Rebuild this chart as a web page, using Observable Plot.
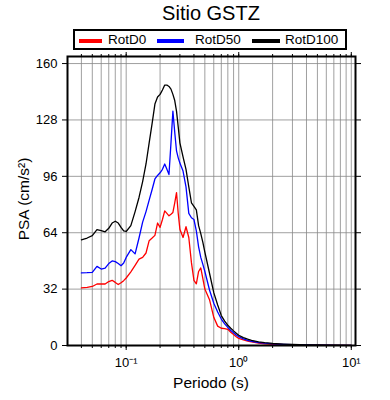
<!DOCTYPE html>
<html><head><meta charset="utf-8">
<script src="https://cdn.jsdelivr.net/npm/d3@7"></script>
<script src="https://cdn.jsdelivr.net/npm/@observablehq/plot@0.6"></script>
<style>
body{margin:0;background:#fff;}
#wrap{position:relative;width:390px;height:400px;font-family:"Liberation Sans",Arial,sans-serif;color:#000;}
#wrap svg{position:absolute;left:0;top:0;}
.ov{position:absolute;white-space:nowrap;}
#title{left:0;width:422px;top:3px;text-align:center;font-size:20px;line-height:20px;}
#legend{left:73px;top:29px;width:274px;height:21px;border:2px solid #000;box-sizing:border-box;}
.sw{position:absolute;height:4px;top:39px;}
.lt{position:absolute;top:33px;font-size:13.5px;line-height:13.5px;}
#xlab{left:0;width:422px;top:375px;text-align:center;font-size:15.5px;line-height:16px;}
#ylab{left:24px;top:199px;font-size:15.5px;line-height:16px;transform:translate(-50%,-50%) rotate(-90deg);}
</style></head>
<body><div id="wrap"></div>
<script>
const periods = [0.04,0.045,0.05,0.055,0.06,0.065,0.07,0.075,0.08,0.085,0.09,0.095,0.1,0.11,0.12,0.13,0.14,0.15,0.16,0.17,0.18,0.19,0.2,0.21,0.22,0.23,0.24,0.25,0.26,0.27,0.28,0.29,0.3,0.32,0.34,0.36,0.38,0.4,0.42,0.44,0.46,0.48,0.5,0.55,0.6,0.65,0.7,0.75,0.8,0.85,0.9,0.95,1.0,1.1,1.2,1.3,1.5,1.7,2.0,2.5,3.0,4.0,5.0,6.0,7.5,10];
const rotD0 = [32.7,33.0,33.5,34.9,34.9,34.9,36.3,37.0,35.8,34.6,35.6,36.8,38.3,41.8,45.5,49.0,50.0,52.5,59.5,61.0,62.5,69.5,67.0,71.5,76.4,75.0,73.6,74.5,75.5,81.0,86.8,75.0,66.0,61.3,67.4,61.3,47.0,37.0,35.0,42.0,44.0,38.0,32.0,26.0,16.0,11.0,9.8,9.6,9.2,7.5,6.2,5.0,4.0,3.2,2.5,2.0,1.4,1.0,0.7,0.5,0.35,0.25,0.18,0.14,0.1,0.07];
const rotD50 = [41.2,41.3,41.5,44.9,43.4,43.9,46.5,48.0,47.6,46.5,45.3,46.8,50.0,54.4,52.0,61.0,70.0,76.0,82.5,88.5,94.5,96.5,98.0,100.0,103.0,100.0,97.0,115.0,133.0,121.0,110.4,106.5,103.5,99.0,90.0,75.0,72.5,71.5,65.0,56.0,50.0,46.0,42.0,31.5,24.0,19.0,15.0,12.3,10.3,8.5,7.2,6.0,5.0,3.8,2.9,2.3,1.7,1.3,0.9,0.6,0.45,0.3,0.22,0.16,0.12,0.08];
const rotD100 = [60,61,62.3,65.7,65.2,64.5,66.5,69.5,70.5,69.5,67,65,64.7,68,76,84,93,103,115,126,137,141,142.5,145,147.8,147.8,147,145.5,142.5,139,133,124,115,107,100,90,81,79,77,68,63.5,58.5,53,41,30,23,17,13.8,11.5,9.8,8.3,7.0,5.8,4.5,3.6,2.9,2.1,1.6,1.15,0.8,0.6,0.4,0.3,0.22,0.16,0.11];
const seriesNames = ["RotD0","RotD50","RotD100"];
const seriesColors = ["#ff0000","#0000ff","#000000"];
const yTicks = [0,32,64,96,128,160];
const xMajor = [0.1,1,10];
const xMajorLabels = ["10\u207B\u00B9","10\u2070","10\u00B9"];
const titleText = "Sitio GSTZ";
const xLabel = "Periodo (s)";
const yLabel = "PSA (cm/s\u00B2)";

const xMinor = [];
for (const d of [0.01,0.1,1]) for (let k=1;k<=9;k++){const v=+(k*d).toPrecision(3); if(v>=0.04) xMinor.push(v);}
xMinor.push(10);

const table = [];
[rotD0,rotD50,rotD100].forEach((arr,si)=>arr.forEach((v,i)=>table.push({period:periods[i],value:v,series:seriesNames[si]})));

const blank = () => "";
const chart = Plot.plot({
  width:390, height:400,
  marginLeft:67, marginRight:35, marginTop:56, marginBottom:55,
  x:{type:"log", domain:[0.0301,10.9]},
  y:{domain:[0,164]},
  color:{domain:seriesNames, range:seriesColors},
  style:{fontFamily:"Liberation Sans, Arial, sans-serif", fontSize:"13px", color:"#000", background:"#fff"},
  marks:[
    Plot.gridX(xMinor,{stroke:"#888", strokeOpacity:1, strokeWidth:0.8}),
    Plot.gridY(yTicks.filter(d=>d>0),{stroke:"#888", strokeOpacity:1, strokeWidth:0.8}),
    Plot.axisX(xMinor,{anchor:"bottom", tickSize:3, tickFormat:blank, label:null}),
    Plot.axisX(xMajor,{anchor:"bottom", tickSize:5, tickPadding:7, tickFormat:(d)=>xMajorLabels[xMajor.indexOf(d)], label:null, fontSize:13}),
    Plot.axisX(xMinor,{anchor:"top", tickSize:3, tickFormat:blank, label:null}),
    Plot.axisX(xMajor,{anchor:"top", tickSize:5, tickFormat:blank, label:null}),
    Plot.axisY(yTicks,{anchor:"left", tickSize:5, tickPadding:5, label:null, fontSize:13}),
    Plot.axisY(yTicks,{anchor:"right", tickSize:5, tickFormat:blank, label:null}),
    Plot.line(table,{x:"period", y:"value", z:"series", stroke:"series", strokeWidth:1.3}),
    Plot.frame({stroke:"#000", strokeWidth:2})
  ]
});
const wrap = document.getElementById("wrap");
wrap.appendChild(chart);

function addDiv(id, cls, text){const d=document.createElement("div"); if(id) d.id=id; d.className=cls; if(text!=null) d.textContent=text; wrap.appendChild(d); return d;}
addDiv("title","ov",titleText);
addDiv("legend","ov",null);
const swX = [79,157,252], swW = [23,27,28], txX = [108,195,285];
seriesNames.forEach((n,i)=>{
  const s = addDiv(null,"sw",null); s.style.left=swX[i]+"px"; s.style.width=swW[i]+"px"; s.style.background=seriesColors[i];
  const t = addDiv(null,"lt",n); t.style.left=txX[i]+"px";
});
addDiv("xlab","ov",xLabel);
addDiv("ylab","ov",yLabel);
</script>
</body></html>
